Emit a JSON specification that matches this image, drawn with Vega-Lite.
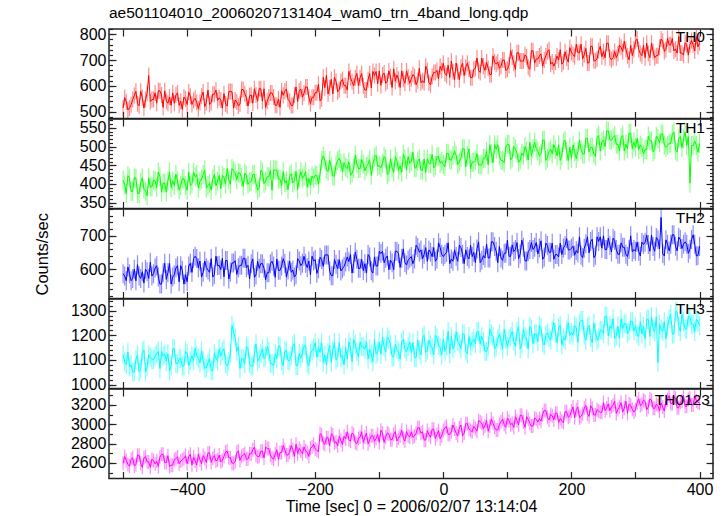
{
"$schema":"https://vega.github.io/schema/vega-lite/v6.json",
"padding":{"left":33,"top":5,"right":13,"bottom":0},
"config":{"view":{"stroke":"#222","strokeWidth":1.5},"font":"Liberation Sans",
"axis":{"domain":false,"grid":false,"tickColor":"#222","tickWidth":1.2,"format":"d","labelFont":"Liberation Sans","labelFontSize":16,"labelColor":"#000","titleFont":"Liberation Sans","titleFontSize":16.5,"titleFontWeight":"normal","titleColor":"#000"}},
"datasets":{"lc":[
{"t":-500,"a":515,"b":410,"c":587,"d":1121,"e":2596},{"t":-495,"a":539,"b":374,"c":566,"d":1081,"e":2624},{"t":-490,"a":515,"b":416,"c":587,"d":1071,"e":2568},{"t":-485,"a":547,"b":380,"c":573,"d":1051,"e":2652},{"t":-480,"a":579,"b":416,"c":566,"d":1101,"e":2582},{"t":-475,"a":523,"b":374,"c":580,"d":1051,"e":2680},{"t":-470,"a":555,"b":416,"c":593,"d":1131,"e":2554},{"t":-465,"a":547,"b":380,"c":600,"d":1051,"e":2666},{"t":-460,"a":640,"b":416,"c":573,"d":1121,"e":2610},{"t":-455,"a":547,"b":392,"c":580,"d":1101,"e":2638},
{"t":-450,"a":573,"b":408,"c":604,"d":1115,"e":2590},{"t":-445,"a":581,"b":432,"c":577,"d":1135,"e":2562},{"t":-440,"a":565,"b":378,"c":556,"d":1135,"e":2688},{"t":-435,"a":581,"b":402,"c":618,"d":1125,"e":2604},{"t":-430,"a":533,"b":408,"c":590,"d":1125,"e":2674},{"t":-425,"a":525,"b":390,"c":556,"d":1075,"e":2576},{"t":-420,"a":533,"b":396,"c":584,"d":1145,"e":2632},{"t":-415,"a":573,"b":408,"c":611,"d":1085,"e":2660},{"t":-410,"a":541,"b":396,"c":611,"d":1105,"e":2618},{"t":-405,"a":557,"b":414,"c":556,"d":1075,"e":2646},
{"t":-400,"a":528,"b":383,"c":563,"d":1127,"e":2591},{"t":-395,"a":560,"b":395,"c":618,"d":1097,"e":2689},{"t":-390,"a":544,"b":431,"c":632,"d":1097,"e":2661},{"t":-385,"a":536,"b":425,"c":632,"d":1117,"e":2577},{"t":-380,"a":536,"b":407,"c":625,"d":1087,"e":2633},{"t":-375,"a":576,"b":425,"c":591,"d":1097,"e":2675},{"t":-370,"a":536,"b":389,"c":605,"d":1067,"e":2605},{"t":-365,"a":528,"b":401,"c":591,"d":1107,"e":2703},{"t":-360,"a":568,"b":413,"c":577,"d":1057,"e":2647},{"t":-355,"a":584,"b":395,"c":639,"d":1107,"e":2619},
{"t":-350,"a":554,"b":423,"c":612,"d":1145,"e":2681},{"t":-345,"a":514,"b":423,"c":633,"d":1135,"e":2625},{"t":-340,"a":530,"b":399,"c":626,"d":1085,"e":2709},{"t":-335,"a":578,"b":411,"c":571,"d":1095,"e":2653},{"t":-330,"a":578,"b":441,"c":619,"d":1240,"e":2597},{"t":-325,"a":546,"b":429,"c":626,"d":1190,"e":2611},{"t":-320,"a":522,"b":429,"c":605,"d":1155,"e":2723},{"t":-315,"a":586,"b":417,"c":612,"d":1105,"e":2667},{"t":-310,"a":570,"b":429,"c":633,"d":1085,"e":2695},{"t":-305,"a":522,"b":399,"c":612,"d":1145,"e":2639},
{"t":-300,"a":565,"b":407,"c":617,"d":1075,"e":2693},{"t":-295,"a":589,"b":425,"c":576,"d":1125,"e":2763},{"t":-290,"a":541,"b":383,"c":624,"d":1095,"e":2665},{"t":-285,"a":589,"b":437,"c":617,"d":1125,"e":2721},{"t":-280,"a":589,"b":401,"c":603,"d":1105,"e":2651},{"t":-275,"a":541,"b":419,"c":590,"d":1155,"e":2749},{"t":-270,"a":573,"b":437,"c":617,"d":1085,"e":2679},{"t":-265,"a":557,"b":437,"c":610,"d":1075,"e":2637},{"t":-260,"a":525,"b":437,"c":631,"d":1105,"e":2735},{"t":-255,"a":517,"b":413,"c":597,"d":1155,"e":2707},
{"t":-250,"a":564,"b":433,"c":632,"d":1077,"e":2779},{"t":-245,"a":588,"b":409,"c":577,"d":1137,"e":2681},{"t":-240,"a":540,"b":421,"c":625,"d":1097,"e":2709},{"t":-235,"a":524,"b":403,"c":598,"d":1157,"e":2737},{"t":-230,"a":596,"b":433,"c":584,"d":1077,"e":2793},{"t":-225,"a":580,"b":415,"c":625,"d":1127,"e":2751},{"t":-220,"a":556,"b":415,"c":618,"d":1127,"e":2695},{"t":-215,"a":596,"b":433,"c":618,"d":1157,"e":2723},{"t":-210,"a":556,"b":415,"c":625,"d":1077,"e":2667},{"t":-205,"a":556,"b":421,"c":639,"d":1137,"e":2765},
{"t":-200,"a":574,"b":423,"c":629,"d":1170,"e":2744},{"t":-195,"a":606,"b":399,"c":602,"d":1150,"e":2716},{"t":-190,"a":550,"b":463,"c":629,"d":1170,"e":2889},{"t":-185,"a":593,"b":463,"c":643,"d":1120,"e":2791},{"t":-180,"a":569,"b":433,"c":643,"d":1130,"e":2861},{"t":-175,"a":625,"b":445,"c":581,"d":1090,"e":2903},{"t":-170,"a":633,"b":421,"c":629,"d":1170,"e":2805},{"t":-165,"a":577,"b":463,"c":602,"d":1110,"e":2777},{"t":-160,"a":617,"b":457,"c":595,"d":1110,"e":2833},{"t":-155,"a":601,"b":457,"c":609,"d":1080,"e":2875},
{"t":-150,"a":584,"b":441,"c":637,"d":1103,"e":2923},{"t":-145,"a":632,"b":423,"c":644,"d":1153,"e":2825},{"t":-140,"a":600,"b":441,"c":617,"d":1183,"e":2895},{"t":-135,"a":648,"b":453,"c":630,"d":1133,"e":2797},{"t":-130,"a":632,"b":441,"c":603,"d":1173,"e":2867},{"t":-125,"a":600,"b":453,"c":596,"d":1153,"e":2811},{"t":-120,"a":584,"b":447,"c":589,"d":1173,"e":2909},{"t":-115,"a":648,"b":465,"c":637,"d":1143,"e":2839},{"t":-110,"a":656,"b":453,"c":589,"d":1093,"e":2881},{"t":-105,"a":656,"b":477,"c":610,"d":1123,"e":2853},
{"t":-100,"a":658,"b":449,"c":654,"d":1173,"e":2812},{"t":-95,"a":642,"b":455,"c":654,"d":1193,"e":2910},{"t":-90,"a":610,"b":467,"c":633,"d":1133,"e":2868},{"t":-85,"a":658,"b":431,"c":599,"d":1183,"e":2896},{"t":-80,"a":594,"b":443,"c":620,"d":1113,"e":2840},{"t":-75,"a":618,"b":473,"c":654,"d":1163,"e":2924},{"t":-70,"a":626,"b":437,"c":647,"d":1133,"e":2854},{"t":-65,"a":658,"b":431,"c":633,"d":1173,"e":2938},{"t":-60,"a":610,"b":467,"c":620,"d":1143,"e":2826},{"t":-55,"a":634,"b":473,"c":627,"d":1153,"e":2882},
{"t":-50,"a":628,"b":461,"c":638,"d":1130,"e":2921},{"t":-45,"a":636,"b":443,"c":631,"d":1110,"e":2879},{"t":-40,"a":620,"b":461,"c":665,"d":1180,"e":2963},{"t":-35,"a":612,"b":437,"c":658,"d":1120,"e":2907},{"t":-30,"a":612,"b":467,"c":645,"d":1200,"e":2837},{"t":-25,"a":660,"b":467,"c":624,"d":1140,"e":2935},{"t":-20,"a":604,"b":455,"c":651,"d":1160,"e":2865},{"t":-15,"a":652,"b":443,"c":665,"d":1120,"e":2949},{"t":-10,"a":660,"b":473,"c":631,"d":1190,"e":2893},{"t":-5,"a":676,"b":455,"c":665,"d":1150,"e":2851},
{"t":0,"a":688,"b":452,"c":638,"d":1185,"e":2936},{"t":5,"a":640,"b":482,"c":651,"d":1155,"e":2978},{"t":10,"a":632,"b":464,"c":617,"d":1125,"e":2894},{"t":15,"a":656,"b":476,"c":624,"d":1145,"e":2992},{"t":20,"a":688,"b":476,"c":638,"d":1215,"e":2908},{"t":25,"a":624,"b":458,"c":672,"d":1165,"e":2964},{"t":30,"a":688,"b":494,"c":645,"d":1205,"e":2880},{"t":35,"a":672,"b":446,"c":658,"d":1135,"e":3006},{"t":40,"a":664,"b":494,"c":631,"d":1195,"e":2950},{"t":45,"a":632,"b":458,"c":638,"d":1175,"e":2922},
{"t":50,"a":668,"b":463,"c":620,"d":1165,"e":2955},{"t":55,"a":660,"b":451,"c":682,"d":1215,"e":3039},{"t":60,"a":708,"b":451,"c":627,"d":1195,"e":3011},{"t":65,"a":660,"b":469,"c":634,"d":1135,"e":2983},{"t":70,"a":668,"b":451,"c":634,"d":1155,"e":2927},{"t":75,"a":644,"b":481,"c":682,"d":1205,"e":3053},{"t":80,"a":692,"b":505,"c":668,"d":1145,"e":2969},{"t":85,"a":692,"b":505,"c":620,"d":1185,"e":2941},{"t":90,"a":676,"b":463,"c":634,"d":1175,"e":3025},{"t":95,"a":700,"b":457,"c":648,"d":1225,"e":2997},
{"t":100,"a":664,"b":506,"c":687,"d":1155,"e":3065},{"t":105,"a":736,"b":464,"c":639,"d":1195,"e":2995},{"t":110,"a":688,"b":500,"c":653,"d":1175,"e":2967},{"t":115,"a":728,"b":482,"c":680,"d":1215,"e":3037},{"t":120,"a":696,"b":464,"c":646,"d":1145,"e":3093},{"t":125,"a":696,"b":476,"c":666,"d":1225,"e":3023},{"t":130,"a":712,"b":488,"c":625,"d":1185,"e":3079},{"t":135,"a":664,"b":512,"c":659,"d":1235,"e":3009},{"t":140,"a":736,"b":494,"c":659,"d":1165,"e":2981},{"t":145,"a":704,"b":494,"c":680,"d":1205,"e":3051},
{"t":150,"a":716,"b":475,"c":664,"d":1240,"e":3059},{"t":155,"a":676,"b":517,"c":630,"d":1170,"e":3101},{"t":160,"a":716,"b":463,"c":678,"d":1200,"e":3143},{"t":165,"a":740,"b":487,"c":651,"d":1190,"e":3045},{"t":170,"a":692,"b":481,"c":678,"d":1220,"e":3087},{"t":175,"a":692,"b":493,"c":644,"d":1210,"e":3115},{"t":180,"a":700,"b":505,"c":637,"d":1230,"e":3017},{"t":185,"a":684,"b":475,"c":644,"d":1160,"e":3031},{"t":190,"a":732,"b":517,"c":671,"d":1180,"e":3129},{"t":195,"a":692,"b":463,"c":658,"d":1250,"e":3073},
{"t":200,"a":729,"b":468,"c":663,"d":1210,"e":3137},{"t":205,"a":713,"b":486,"c":642,"d":1240,"e":3067},{"t":210,"a":729,"b":486,"c":649,"d":1170,"e":3179},{"t":215,"a":761,"b":492,"c":642,"d":1260,"e":3081},{"t":220,"a":721,"b":480,"c":663,"d":1200,"e":3165},{"t":225,"a":689,"b":522,"c":697,"d":1230,"e":3109},{"t":230,"a":753,"b":498,"c":683,"d":1190,"e":3193},{"t":235,"a":697,"b":480,"c":635,"d":1250,"e":3095},{"t":240,"a":705,"b":524,"c":697,"d":1180,"e":3151},{"t":245,"a":753,"b":488,"c":697,"d":1220,"e":3123},
{"t":250,"a":733,"b":518,"c":700,"d":1207,"e":3224},{"t":255,"a":765,"b":542,"c":659,"d":1277,"e":3168},{"t":260,"a":709,"b":518,"c":672,"d":1237,"e":3140},{"t":265,"a":709,"b":524,"c":693,"d":1267,"e":3196},{"t":270,"a":709,"b":506,"c":659,"d":1197,"e":3112},{"t":275,"a":757,"b":488,"c":645,"d":1187,"e":3182},{"t":280,"a":733,"b":530,"c":666,"d":1227,"e":3126},{"t":285,"a":741,"b":506,"c":645,"d":1247,"e":3238},{"t":290,"a":701,"b":536,"c":659,"d":1217,"e":3210},{"t":295,"a":717,"b":494,"c":652,"d":1257,"e":3154},
{"t":300,"a":773,"b":498,"c":654,"d":1235,"e":3151},{"t":305,"a":741,"b":492,"c":654,"d":1195,"e":3263},{"t":310,"a":717,"b":498,"c":681,"d":1205,"e":3207},{"t":315,"a":709,"b":492,"c":681,"d":1185,"e":3235},{"t":320,"a":725,"b":528,"c":674,"d":1265,"e":3179},{"t":325,"a":765,"b":516,"c":702,"d":1275,"e":3249},{"t":330,"a":709,"b":492,"c":654,"d":1215,"e":3165},{"t":335,"a":717,"b":522,"c":688,"d":1090,"e":3193},{"t":340,"a":781,"b":534,"c":755,"d":1225,"e":3221},{"t":345,"a":733,"b":504,"c":640,"d":1255,"e":3137},
{"t":350,"a":783,"b":503,"c":675,"d":1235,"e":3256},{"t":355,"a":759,"b":509,"c":675,"d":1285,"e":3214},{"t":360,"a":735,"b":539,"c":703,"d":1205,"e":3284},{"t":365,"a":727,"b":485,"c":655,"d":1295,"e":3172},{"t":370,"a":727,"b":527,"c":689,"d":1215,"e":3228},{"t":375,"a":719,"b":521,"c":675,"d":1255,"e":3298},{"t":380,"a":759,"b":503,"c":675,"d":1225,"e":3186},{"t":385,"a":759,"b":402,"c":660,"d":1275,"e":3270},{"t":390,"a":759,"b":503,"c":703,"d":1245,"e":3200},{"t":395,"a":791,"b":503,"c":640,"d":1265,"e":3242},{"t":400,"a":767,"b":508,"c":668,"d":1240,"e":3220},
{"t":-497.5,"a":555,"b":398,"c":580,"d":1091,"e":2666},{"t":-492.5,"a":507,"b":422,"c":607,"d":1131,"e":2582},{"t":-487.5,"a":527,"b":380,"c":566,"d":1081,"e":2638},{"t":-482.5,"a":563,"b":416,"c":600,"d":1051,"e":2568},{"t":-477.5,"a":531,"b":374,"c":614,"d":1121,"e":2680},{"t":-472.5,"a":579,"b":404,"c":573,"d":1061,"e":2596},{"t":-467.5,"a":515,"b":386,"c":559,"d":1141,"e":2652},{"t":-462.5,"a":571,"b":368,"c":593,"d":1071,"e":2610},{"t":-457.5,"a":539,"b":392,"c":621,"d":1111,"e":2554},{"t":-452.5,"a":547,"b":410,"c":587,"d":1101,"e":2624},
{"t":-447.5,"a":533,"b":390,"c":611,"d":1125,"e":2618},{"t":-442.5,"a":581,"b":420,"c":556,"d":1065,"e":2660},{"t":-437.5,"a":517,"b":402,"c":590,"d":1115,"e":2688},{"t":-432.5,"a":541,"b":378,"c":570,"d":1095,"e":2604},{"t":-427.5,"a":557,"b":432,"c":618,"d":1055,"e":2562},{"t":-422.5,"a":573,"b":408,"c":577,"d":1145,"e":2576},{"t":-417.5,"a":565,"b":426,"c":604,"d":1085,"e":2646},{"t":-412.5,"a":525,"b":384,"c":563,"d":1105,"e":2590},{"t":-407.5,"a":509,"b":414,"c":597,"d":1075,"e":2632},{"t":-402.5,"a":549,"b":396,"c":584,"d":1135,"e":2674},
{"t":-397.5,"a":576,"b":431,"c":610,"d":1077,"e":2661},{"t":-392.5,"a":528,"b":401,"c":591,"d":1117,"e":2577},{"t":-387.5,"a":552,"b":419,"c":639,"d":1147,"e":2619},{"t":-382.5,"a":512,"b":389,"c":605,"d":1107,"e":2689},{"t":-377.5,"a":560,"b":413,"c":577,"d":1137,"e":2591},{"t":-372.5,"a":520,"b":437,"c":625,"d":1067,"e":2647},{"t":-367.5,"a":584,"b":395,"c":598,"d":1087,"e":2703},{"t":-362.5,"a":536,"b":383,"c":632,"d":1057,"e":2605},{"t":-357.5,"a":568,"b":425,"c":584,"d":1127,"e":2675},{"t":-352.5,"a":544,"b":407,"c":611,"d":1097,"e":2633},
{"t":-347.5,"a":546,"b":387,"c":599,"d":1115,"e":2611},{"t":-342.5,"a":570,"b":417,"c":578,"d":1145,"e":2667},{"t":-337.5,"a":522,"b":441,"c":626,"d":1075,"e":2723},{"t":-332.5,"a":578,"b":399,"c":592,"d":1125,"e":2653},{"t":-327.5,"a":514,"b":435,"c":619,"d":1215,"e":2597},{"t":-322.5,"a":538,"b":411,"c":585,"d":1135,"e":2709},{"t":-317.5,"a":530,"b":429,"c":612,"d":1065,"e":2625},{"t":-312.5,"a":586,"b":393,"c":633,"d":1105,"e":2681},{"t":-307.5,"a":554,"b":423,"c":605,"d":1155,"e":2639},{"t":-302.5,"a":562,"b":405,"c":571,"d":1085,"e":2695},
{"t":-297.5,"a":533,"b":425,"c":631,"d":1075,"e":2735},{"t":-292.5,"a":565,"b":401,"c":583,"d":1165,"e":2679},{"t":-287.5,"a":589,"b":389,"c":603,"d":1105,"e":2665},{"t":-282.5,"a":541,"b":431,"c":617,"d":1145,"e":2721},{"t":-277.5,"a":517,"b":407,"c":569,"d":1115,"e":2763},{"t":-272.5,"a":557,"b":419,"c":590,"d":1135,"e":2749},{"t":-267.5,"a":573,"b":383,"c":624,"d":1085,"e":2651},{"t":-262.5,"a":525,"b":437,"c":576,"d":1125,"e":2693},{"t":-257.5,"a":549,"b":413,"c":597,"d":1155,"e":2637},{"t":-252.5,"a":581,"b":395,"c":610,"d":1095,"e":2707},
{"t":-247.5,"a":580,"b":403,"c":618,"d":1137,"e":2737},{"t":-242.5,"a":548,"b":385,"c":598,"d":1097,"e":2681},{"t":-237.5,"a":524,"b":427,"c":591,"d":1117,"e":2779},{"t":-232.5,"a":564,"b":409,"c":577,"d":1167,"e":2667},{"t":-227.5,"a":540,"b":385,"c":632,"d":1077,"e":2695},{"t":-222.5,"a":588,"b":433,"c":611,"d":1107,"e":2723},{"t":-217.5,"a":572,"b":421,"c":639,"d":1157,"e":2765},{"t":-212.5,"a":596,"b":391,"c":605,"d":1087,"e":2709},{"t":-207.5,"a":532,"b":397,"c":584,"d":1127,"e":2751},{"t":-202.5,"a":556,"b":415,"c":625,"d":1147,"e":2793},
{"t":-197.5,"a":574,"b":423,"c":588,"d":1110,"e":2730},{"t":-192.5,"a":542,"b":427,"c":636,"d":1130,"e":2903},{"t":-187.5,"a":633,"b":475,"c":609,"d":1090,"e":2805},{"t":-182.5,"a":641,"b":439,"c":643,"d":1080,"e":2861},{"t":-177.5,"a":593,"b":463,"c":595,"d":1160,"e":2777},{"t":-172.5,"a":569,"b":421,"c":581,"d":1140,"e":2889},{"t":-167.5,"a":617,"b":451,"c":615,"d":1100,"e":2819},{"t":-162.5,"a":585,"b":469,"c":629,"d":1170,"e":2875},{"t":-157.5,"a":625,"b":433,"c":602,"d":1120,"e":2791},{"t":-152.5,"a":601,"b":445,"c":622,"d":1150,"e":2847},
{"t":-147.5,"a":656,"b":459,"c":623,"d":1173,"e":2839},{"t":-142.5,"a":616,"b":429,"c":589,"d":1093,"e":2909},{"t":-137.5,"a":632,"b":477,"c":651,"d":1163,"e":2811},{"t":-132.5,"a":600,"b":441,"c":603,"d":1113,"e":2853},{"t":-127.5,"a":648,"b":465,"c":630,"d":1153,"e":2923},{"t":-122.5,"a":584,"b":435,"c":617,"d":1143,"e":2867},{"t":-117.5,"a":624,"b":453,"c":644,"d":1103,"e":2797},{"t":-112.5,"a":592,"b":423,"c":596,"d":1123,"e":2881},{"t":-107.5,"a":640,"b":471,"c":637,"d":1183,"e":2825},{"t":-102.5,"a":608,"b":447,"c":610,"d":1133,"e":2895},
{"t":-97.5,"a":602,"b":443,"c":647,"d":1123,"e":2938},{"t":-92.5,"a":650,"b":473,"c":620,"d":1153,"e":2812},{"t":-87.5,"a":618,"b":425,"c":640,"d":1193,"e":2910},{"t":-82.5,"a":634,"b":467,"c":627,"d":1163,"e":2840},{"t":-77.5,"a":666,"b":431,"c":599,"d":1113,"e":2896},{"t":-72.5,"a":642,"b":461,"c":654,"d":1143,"e":2826},{"t":-67.5,"a":594,"b":449,"c":606,"d":1103,"e":2882},{"t":-62.5,"a":626,"b":479,"c":661,"d":1183,"e":2854},{"t":-57.5,"a":658,"b":437,"c":613,"d":1133,"e":2924},{"t":-52.5,"a":610,"b":455,"c":633,"d":1173,"e":2868},
{"t":-47.5,"a":644,"b":485,"c":617,"d":1170,"e":2865},{"t":-42.5,"a":604,"b":443,"c":672,"d":1110,"e":2907},{"t":-37.5,"a":668,"b":467,"c":651,"d":1140,"e":2963},{"t":-32.5,"a":620,"b":437,"c":631,"d":1190,"e":2921},{"t":-27.5,"a":676,"b":431,"c":665,"d":1130,"e":2837},{"t":-22.5,"a":612,"b":455,"c":658,"d":1180,"e":2893},{"t":-17.5,"a":636,"b":479,"c":638,"d":1150,"e":2949},{"t":-12.5,"a":652,"b":449,"c":624,"d":1200,"e":2851},{"t":-7.5,"a":628,"b":473,"c":679,"d":1160,"e":2935},{"t":-2.5,"a":660,"b":461,"c":645,"d":1120,"e":2879},
{"t":2.5,"a":648,"b":446,"c":645,"d":1135,"e":2964},{"t":7.5,"a":680,"b":482,"c":679,"d":1215,"e":2894},{"t":12.5,"a":696,"b":464,"c":631,"d":1195,"e":2922},{"t":17.5,"a":624,"b":488,"c":658,"d":1165,"e":2950},{"t":22.5,"a":656,"b":452,"c":624,"d":1175,"e":2880},{"t":27.5,"a":672,"b":470,"c":665,"d":1145,"e":2992},{"t":32.5,"a":640,"b":494,"c":617,"d":1205,"e":2908},{"t":37.5,"a":688,"b":476,"c":638,"d":1125,"e":3006},{"t":42.5,"a":632,"b":440,"c":672,"d":1155,"e":2936},{"t":47.5,"a":664,"b":458,"c":651,"d":1185,"e":2978},
{"t":52.5,"a":708,"b":481,"c":661,"d":1215,"e":2927},{"t":57.5,"a":652,"b":451,"c":620,"d":1165,"e":3025},{"t":62.5,"a":676,"b":469,"c":641,"d":1175,"e":2955},{"t":67.5,"a":692,"b":487,"c":675,"d":1135,"e":3039},{"t":72.5,"a":644,"b":505,"c":634,"d":1225,"e":2983},{"t":77.5,"a":716,"b":457,"c":682,"d":1195,"e":3011},{"t":82.5,"a":684,"b":493,"c":654,"d":1155,"e":2941},{"t":87.5,"a":668,"b":475,"c":668,"d":1205,"e":2997},{"t":92.5,"a":700,"b":463,"c":627,"d":1145,"e":3053},{"t":97.5,"a":660,"b":499,"c":648,"d":1185,"e":2969},
{"t":102.5,"a":680,"b":506,"c":639,"d":1185,"e":3037},{"t":107.5,"a":712,"b":470,"c":673,"d":1215,"e":3009},{"t":112.5,"a":664,"b":494,"c":659,"d":1155,"e":3079},{"t":117.5,"a":728,"b":458,"c":632,"d":1235,"e":2995},{"t":122.5,"a":696,"b":482,"c":687,"d":1165,"e":3093},{"t":127.5,"a":720,"b":500,"c":625,"d":1195,"e":2967},{"t":132.5,"a":672,"b":464,"c":653,"d":1145,"e":3051},{"t":137.5,"a":736,"b":476,"c":680,"d":1225,"e":2981},{"t":142.5,"a":688,"b":512,"c":666,"d":1205,"e":3065},{"t":147.5,"a":704,"b":488,"c":646,"d":1175,"e":3023},
{"t":152.5,"a":724,"b":481,"c":685,"d":1230,"e":3031},{"t":157.5,"a":700,"b":517,"c":637,"d":1160,"e":3143},{"t":162.5,"a":732,"b":469,"c":671,"d":1210,"e":3073},{"t":167.5,"a":684,"b":493,"c":651,"d":1180,"e":3101},{"t":172.5,"a":676,"b":505,"c":630,"d":1250,"e":3045},{"t":177.5,"a":716,"b":475,"c":644,"d":1170,"e":3115},{"t":182.5,"a":740,"b":463,"c":678,"d":1240,"e":3059},{"t":187.5,"a":692,"b":511,"c":664,"d":1190,"e":3017},{"t":192.5,"a":708,"b":487,"c":692,"d":1220,"e":3129},{"t":197.5,"a":748,"b":499,"c":658,"d":1200,"e":3087},
{"t":202.5,"a":721,"b":504,"c":669,"d":1200,"e":3179},{"t":207.5,"a":761,"b":468,"c":656,"d":1230,"e":3151},{"t":212.5,"a":729,"b":516,"c":697,"d":1250,"e":3067},{"t":217.5,"a":705,"b":480,"c":635,"d":1260,"e":3109},{"t":222.5,"a":745,"b":522,"c":676,"d":1180,"e":3193},{"t":227.5,"a":689,"b":486,"c":649,"d":1240,"e":3081},{"t":232.5,"a":753,"b":498,"c":690,"d":1170,"e":3165},{"t":237.5,"a":697,"b":474,"c":642,"d":1210,"e":3095},{"t":242.5,"a":737,"b":530,"c":683,"d":1190,"e":3137},{"t":247.5,"a":713,"b":512,"c":663,"d":1220,"e":3123},
{"t":252.5,"a":709,"b":500,"c":659,"d":1277,"e":3140},{"t":257.5,"a":765,"b":542,"c":693,"d":1197,"e":3210},{"t":262.5,"a":701,"b":518,"c":652,"d":1227,"e":3182},{"t":267.5,"a":733,"b":530,"c":686,"d":1187,"e":3238},{"t":272.5,"a":725,"b":506,"c":645,"d":1237,"e":3154},{"t":277.5,"a":749,"b":524,"c":679,"d":1267,"e":3224},{"t":282.5,"a":773,"b":488,"c":666,"d":1247,"e":3168},{"t":287.5,"a":717,"b":494,"c":638,"d":1207,"e":3112},{"t":292.5,"a":757,"b":536,"c":700,"d":1257,"e":3196},{"t":297.5,"a":741,"b":512,"c":659,"d":1217,"e":3126},
{"t":302.5,"a":781,"b":522,"c":681,"d":1205,"e":3221},{"t":307.5,"a":725,"b":504,"c":640,"d":1255,"e":3193},{"t":312.5,"a":757,"b":480,"c":674,"d":1235,"e":3249},{"t":317.5,"a":765,"b":492,"c":702,"d":1265,"e":3151},{"t":322.5,"a":709,"b":516,"c":654,"d":1195,"e":3263},{"t":327.5,"a":733,"b":486,"c":668,"d":1225,"e":3165},{"t":332.5,"a":717,"b":528,"c":695,"d":1275,"e":3207},{"t":337.5,"a":749,"b":510,"c":661,"d":1245,"e":3137},{"t":342.5,"a":773,"b":534,"c":647,"d":1215,"e":3179},{"t":347.5,"a":741,"b":498,"c":688,"d":1185,"e":3235},
{"t":352.5,"a":759,"b":509,"c":655,"d":1265,"e":3298},{"t":357.5,"a":783,"b":533,"c":703,"d":1205,"e":3214},{"t":362.5,"a":743,"b":491,"c":669,"d":1295,"e":3270},{"t":367.5,"a":791,"b":521,"c":696,"d":1235,"e":3172},{"t":372.5,"a":727,"b":497,"c":662,"d":1285,"e":3242},{"t":377.5,"a":767,"b":539,"c":682,"d":1225,"e":3186},{"t":382.5,"a":719,"b":527,"c":648,"d":1275,"e":3256},{"t":387.5,"a":775,"b":503,"c":689,"d":1245,"e":3200},{"t":392.5,"a":735,"b":515,"c":675,"d":1215,"e":3284},{"t":397.5,"a":751,"b":485,"c":641,"d":1255,"e":3228}
]},
"data":{"name":"lc"},
"spacing":0,
"bounds":"flush",
"vconcat":[
{"width":604,"height":89.5,
"title":{"text":"ae501104010_20060207131404_wam0_trn_4band_long.qdp","anchor":"start","frame":"group","offset":-10.5,"baseline":"bottom","fontSize":15.5,"fontWeight":"normal","font":"Liberation Sans","color":"#000"},
"resolve":{"axis":{"x":"independent","y":"independent"}},
"layer":[
{"mark":{"type":"tick","orient":"vertical","size":16,"thickness":1.2,"color":"#ff0000","opacity":0.45,"clip":true},
"encoding":{"x":{"field":"t","type":"quantitative","scale":{"domain":[-522,421],"nice":false,"zero":false},"axis":{"orient":"bottom","values":[-500,-400,-300,-200,-100,0,100,200,300,400],"tickSize":-7,"labels":false,"title":null}},
"y":{"field":"a","type":"quantitative","scale":{"domain":[474,820],"nice":false,"zero":false},"axis":{"orient":"left","values":[500,600,700,800],"tickSize":-7,"labelPadding":10,"title":null}}}},
{"mark":{"type":"line","color":"#ff0000","strokeWidth":1,"clip":true},
"encoding":{"x":{"field":"t","type":"quantitative","scale":{"domain":[-522,421],"nice":false,"zero":false},"axis":{"orient":"top","values":[-500,-400,-300,-200,-100,0,100,200,300,400],"tickSize":-7,"labels":false,"title":null}},
"y":{"field":"a","type":"quantitative","scale":{"domain":[474,820],"nice":false,"zero":false},"axis":{"orient":"right","values":[500,600,700,800],"tickSize":-7,"labels":false,"title":null}}}},
{"data":{"values":[{"label":"TH0"}]},
"mark":{"type":"text","align":"right","baseline":"top","dx":-8,"dy":1,"fontSize":15.5,"font":"Liberation Sans","color":"#000"},
"encoding":{"x":{"datum":421,"type":"quantitative","scale":{"domain":[-522,421],"nice":false,"zero":false},"axis":null},
"y":{"datum":820,"type":"quantitative","scale":{"domain":[474,820],"nice":false,"zero":false},"axis":{"orient":"left","values":[480,500,520,540,560,580,600,620,640,660,680,700,720,740,760,780,800,820],"tickSize":-3.5,"labels":false,"title":null}},
"text":{"field":"label"}}},
{"mark":{"type":"line","color":"#ff0000","strokeOpacity":0},
"encoding":{"x":{"field":"t","type":"quantitative","scale":{"domain":[-522,421],"nice":false,"zero":false},"axis":null},
"y":{"field":"a","type":"quantitative","scale":{"domain":[474,820],"nice":false,"zero":false},"axis":{"orient":"right","values":[480,500,520,540,560,580,600,620,640,660,680,700,720,740,760,780,800,820],"tickSize":-3.5,"labels":false,"title":null}}}}
]},
{"width":604,"height":89.5,
"resolve":{"axis":{"x":"independent","y":"independent"}},
"layer":[
{"mark":{"type":"tick","orient":"vertical","size":19,"thickness":1.2,"color":"#00ff00","opacity":0.45,"clip":true},
"encoding":{"x":{"field":"t","type":"quantitative","scale":{"domain":[-522,421],"nice":false,"zero":false},"axis":{"orient":"bottom","values":[-500,-400,-300,-200,-100,0,100,200,300,400],"tickSize":-7,"labels":false,"title":null}},
"y":{"field":"b","type":"quantitative","scale":{"domain":[334,574],"nice":false,"zero":false},"axis":{"orient":"left","values":[350,400,450,500,550],"tickSize":-7,"labelPadding":10,"title":null}}}},
{"mark":{"type":"line","color":"#00ff00","strokeWidth":1,"clip":true},
"encoding":{"x":{"field":"t","type":"quantitative","scale":{"domain":[-522,421],"nice":false,"zero":false},"axis":{"orient":"top","values":[-500,-400,-300,-200,-100,0,100,200,300,400],"tickSize":-7,"labels":false,"title":null}},
"y":{"field":"b","type":"quantitative","scale":{"domain":[334,574],"nice":false,"zero":false},"axis":{"orient":"right","values":[350,400,450,500,550],"tickSize":-7,"labels":false,"title":null}}}},
{"data":{"values":[{"label":"TH1"}]},
"mark":{"type":"text","align":"right","baseline":"top","dx":-8,"dy":2,"fontSize":15.5,"font":"Liberation Sans","color":"#000"},
"encoding":{"x":{"datum":421,"type":"quantitative","scale":{"domain":[-522,421],"nice":false,"zero":false},"axis":null},
"y":{"datum":574,"type":"quantitative","scale":{"domain":[334,574],"nice":false,"zero":false},"axis":{"orient":"left","values":[340,350,360,370,380,390,400,410,420,430,440,450,460,470,480,490,500,510,520,530,540,550,560,570],"tickSize":-3.5,"labels":false,"title":null}},
"text":{"field":"label"}}},
{"mark":{"type":"line","color":"#00ff00","strokeOpacity":0},
"encoding":{"x":{"field":"t","type":"quantitative","scale":{"domain":[-522,421],"nice":false,"zero":false},"axis":null},
"y":{"field":"b","type":"quantitative","scale":{"domain":[334,574],"nice":false,"zero":false},"axis":{"orient":"right","values":[340,350,360,370,380,390,400,410,420,430,440,450,460,470,480,490,500,510,520,530,540,550,560,570],"tickSize":-3.5,"labels":false,"title":null}}}}
]},
{"width":604,"height":89.5,
"resolve":{"axis":{"x":"independent","y":"independent"}},
"layer":[
{"mark":{"type":"tick","orient":"vertical","size":19,"thickness":1.2,"color":"#0000ff","opacity":0.45,"clip":true},
"encoding":{"x":{"field":"t","type":"quantitative","scale":{"domain":[-522,421],"nice":false,"zero":false},"axis":{"orient":"bottom","values":[-500,-400,-300,-200,-100,0,100,200,300,400],"tickSize":-7,"labels":false,"title":null}},
"y":{"field":"c","type":"quantitative","scale":{"domain":[513,780],"nice":false,"zero":false},"axis":{"orient":"left","values":[600,700],"tickSize":-7,"labelPadding":10,"title":"Counts/sec","titleX":-66.7,"titleY":44.75,"titleAngle":270,"titleAlign":"center","titleBaseline":"middle"}}}},
{"mark":{"type":"line","color":"#0000ff","strokeWidth":1,"clip":true},
"encoding":{"x":{"field":"t","type":"quantitative","scale":{"domain":[-522,421],"nice":false,"zero":false},"axis":{"orient":"top","values":[-500,-400,-300,-200,-100,0,100,200,300,400],"tickSize":-7,"labels":false,"title":null}},
"y":{"field":"c","type":"quantitative","scale":{"domain":[513,780],"nice":false,"zero":false},"axis":{"orient":"right","values":[600,700],"tickSize":-7,"labels":false,"title":null}}}},
{"data":{"values":[{"label":"TH2"}]},
"mark":{"type":"text","align":"right","baseline":"top","dx":-8,"dy":2,"fontSize":15.5,"font":"Liberation Sans","color":"#000"},
"encoding":{"x":{"datum":421,"type":"quantitative","scale":{"domain":[-522,421],"nice":false,"zero":false},"axis":null},
"y":{"datum":780,"type":"quantitative","scale":{"domain":[513,780],"nice":false,"zero":false},"axis":{"orient":"left","values":[520,540,560,580,600,620,640,660,680,700,720,740,760,780],"tickSize":-3.5,"labels":false,"title":null}},
"text":{"field":"label"}}},
{"mark":{"type":"line","color":"#0000ff","strokeOpacity":0},
"encoding":{"x":{"field":"t","type":"quantitative","scale":{"domain":[-522,421],"nice":false,"zero":false},"axis":null},
"y":{"field":"c","type":"quantitative","scale":{"domain":[513,780],"nice":false,"zero":false},"axis":{"orient":"right","values":[520,540,560,580,600,620,640,660,680,700,720,740,760,780],"tickSize":-3.5,"labels":false,"title":null}}}}
]},
{"width":604,"height":89.5,
"resolve":{"axis":{"x":"independent","y":"independent"}},
"layer":[
{"mark":{"type":"tick","orient":"vertical","size":19,"thickness":1.2,"color":"#00ffff","opacity":0.5,"clip":true},
"encoding":{"x":{"field":"t","type":"quantitative","scale":{"domain":[-522,421],"nice":false,"zero":false},"axis":{"orient":"bottom","values":[-500,-400,-300,-200,-100,0,100,200,300,400],"tickSize":-7,"labels":false,"title":null}},
"y":{"field":"d","type":"quantitative","scale":{"domain":[984,1347],"nice":false,"zero":false},"axis":{"orient":"left","values":[1000,1100,1200,1300],"tickSize":-7,"labelPadding":10,"title":null}}}},
{"mark":{"type":"line","color":"#00ffff","strokeWidth":1,"clip":true},
"encoding":{"x":{"field":"t","type":"quantitative","scale":{"domain":[-522,421],"nice":false,"zero":false},"axis":{"orient":"top","values":[-500,-400,-300,-200,-100,0,100,200,300,400],"tickSize":-7,"labels":false,"title":null}},
"y":{"field":"d","type":"quantitative","scale":{"domain":[984,1347],"nice":false,"zero":false},"axis":{"orient":"right","values":[1000,1100,1200,1300],"tickSize":-7,"labels":false,"title":null}}}},
{"data":{"values":[{"label":"TH3"}]},
"mark":{"type":"text","align":"right","baseline":"top","dx":-8,"dy":3,"fontSize":15.5,"font":"Liberation Sans","color":"#000"},
"encoding":{"x":{"datum":421,"type":"quantitative","scale":{"domain":[-522,421],"nice":false,"zero":false},"axis":null},
"y":{"datum":1347,"type":"quantitative","scale":{"domain":[984,1347],"nice":false,"zero":false},"axis":{"orient":"left","values":[1000,1020,1040,1060,1080,1100,1120,1140,1160,1180,1200,1220,1240,1260,1280,1300,1320,1340],"tickSize":-3.5,"labels":false,"title":null}},
"text":{"field":"label"}}},
{"mark":{"type":"line","color":"#00ffff","strokeOpacity":0},
"encoding":{"x":{"field":"t","type":"quantitative","scale":{"domain":[-522,421],"nice":false,"zero":false},"axis":null},
"y":{"field":"d","type":"quantitative","scale":{"domain":[984,1347],"nice":false,"zero":false},"axis":{"orient":"right","values":[1000,1020,1040,1060,1080,1100,1120,1140,1160,1180,1200,1220,1240,1260,1280,1300,1320,1340],"tickSize":-3.5,"labels":false,"title":null}}}}
]},
{"width":604,"height":89.5,
"resolve":{"axis":{"x":"independent","y":"independent"}},
"layer":[
{"mark":{"type":"tick","orient":"vertical","size":14,"thickness":1.2,"color":"#ff00ff","opacity":0.45,"clip":true},
"encoding":{"x":{"field":"t","type":"quantitative","scale":{"domain":[-522,421],"nice":false,"zero":false},"axis":{"orient":"bottom","values":[-500,-400,-300,-200,-100,0,100,200,300,400],"tickSize":-7,"labels":false,"title":null}},
"y":{"field":"e","type":"quantitative","scale":{"domain":[2438,3365],"nice":false,"zero":false},"axis":{"orient":"left","values":[2600,2800,3000,3200],"tickSize":-7,"labelPadding":10,"title":null}}}},
{"mark":{"type":"line","color":"#ff00ff","strokeWidth":1,"clip":true},
"encoding":{"x":{"field":"t","type":"quantitative","scale":{"domain":[-522,421],"nice":false,"zero":false},"axis":{"orient":"top","values":[-500,-400,-300,-200,-100,0,100,200,300,400],"tickSize":-7,"labels":false,"title":null}},
"y":{"field":"e","type":"quantitative","scale":{"domain":[2438,3365],"nice":false,"zero":false},"axis":{"orient":"right","values":[2600,2800,3000,3200],"tickSize":-7,"labels":false,"title":null}}}},
{"data":{"values":[{"label":"TH0123"}]},
"mark":{"type":"text","align":"right","baseline":"top","dx":-3,"dy":4,"fontSize":15.5,"font":"Liberation Sans","color":"#000"},
"encoding":{"x":{"datum":421,"type":"quantitative","scale":{"domain":[-522,421],"nice":false,"zero":false},"axis":{"orient":"bottom","values":[-400,-200,0,200,400],"ticks":false,"labelPadding":3,"title":"Time [sec] 0 = 2006/02/07 13:14:04","titleFontSize":16,"titlePadding":1}},
"y":{"datum":3365,"type":"quantitative","scale":{"domain":[2438,3365],"nice":false,"zero":false},"axis":{"orient":"left","values":[2500,2600,2700,2800,2900,3000,3100,3200,3300],"tickSize":-3.5,"labels":false,"title":null}},
"text":{"field":"label"}}},
{"mark":{"type":"line","color":"#ff00ff","strokeOpacity":0},
"encoding":{"x":{"field":"t","type":"quantitative","scale":{"domain":[-522,421],"nice":false,"zero":false},"axis":null},
"y":{"field":"e","type":"quantitative","scale":{"domain":[2438,3365],"nice":false,"zero":false},"axis":{"orient":"right","values":[2500,2600,2700,2800,2900,3000,3100,3200,3300],"tickSize":-3.5,"labels":false,"title":null}}}}
]}
]
}
